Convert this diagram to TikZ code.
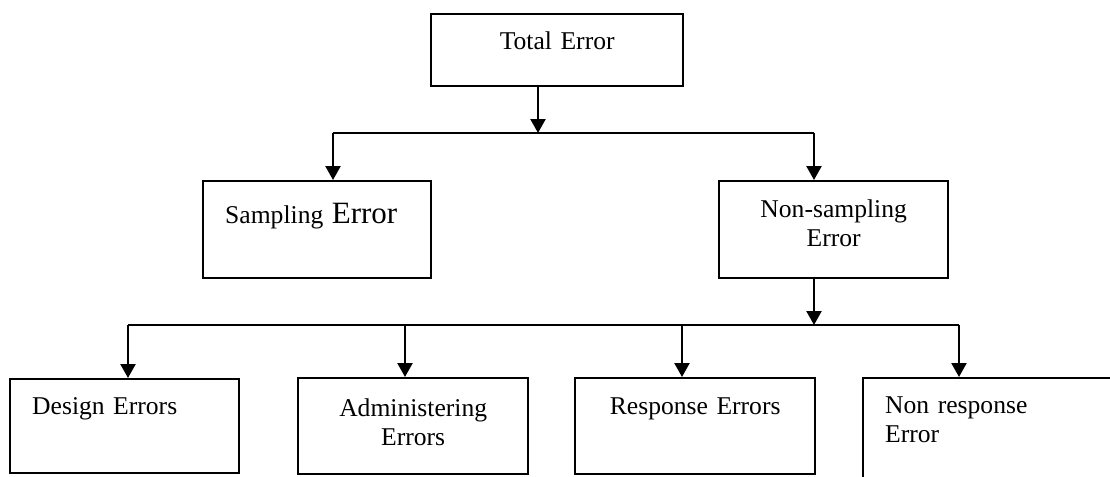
\documentclass[tikz,border=0pt]{standalone}
\usepackage{fontspec}
\setmainfont{Liberation Serif}
\usepackage{tikz}
\usetikzlibrary{calc}
\usetikzlibrary{arrows.meta}
\usetikzlibrary{positioning}
\tikzstyle{errbox}=[black, draw=black, line width=1.2pt, shape=rectangle, fill=white, inner xsep=11pt, inner ysep=0pt, anchor=north west, font=\fontsize{12.8}{14.6}\selectfont]
\tikzstyle{cbox}=[errbox, align=center]
\tikzstyle{lbox}=[errbox, align=left]
\tikzstyle{link}=[-{Triangle[length=7pt, width=7.5pt]}, line width=1.2pt, color=black]
\tikzstyle{bus}=[line width=1.2pt, color=black]

\begin{document}
\begin{tikzpicture}[x=0.5pt, y=-0.5pt]
\clip (0,0) rectangle (1110,477);
\node [cbox, text width=104pt, text height=17.5pt, text depth=18.5pt] (total) at (430,13) {Total Error};
\node [lbox, text width=92pt, text height=21pt, text depth=27.5pt] (samp) at (202,180) {Sampling {\fontsize{15.5}{16}\selectfont Error}};
\node [cbox, text width=92.5pt, text height=18pt, text depth=30.5pt] (nons) at (718,180) {Non-sampling\\Error};
\node [lbox, text width=92.5pt, text height=17.5pt, text depth=29.5pt] (design) at (9,378) {Design Errors};
\node [cbox, text width=93pt, text height=19pt, text depth=29pt] (admin) at (297,377) {Administering\\Errors};
\node [cbox, text width=98pt, text height=18pt, text depth=30pt] (resp) at (574,377) {Response Errors};
\node [lbox, text width=128pt, text height=17.5pt, text depth=39pt] (nonr) at (862,377) {Non response\\Error};

\coordinate (top) at (538,133);
\coordinate (sampin) at (333,133);
\coordinate (nonsin) at (814,133);
\coordinate (mid) at (814,325);
\coordinate (designin) at (128,325);
\coordinate (adminin) at (405,325);
\coordinate (respin) at (682,325);
\coordinate (nonrin) at (959,325);

\draw[link] (total.south -| top) -- (top);
\draw[bus] (sampin) -- (nonsin);
\draw[link] (sampin) -- (sampin |- samp.north);
\draw[link] (nonsin) -- (nonsin |- nons.north);
\draw[link] (nons.south -| mid) -- (mid);
\draw[bus] (designin) -- (nonrin);
\draw[link] (designin) -- (designin |- design.north);
\draw[link] (adminin) -- (adminin |- admin.north);
\draw[link] (respin) -- (respin |- resp.north);
\draw[link] (nonrin) -- (nonrin |- nonr.north);
\end{tikzpicture}
\end{document}
